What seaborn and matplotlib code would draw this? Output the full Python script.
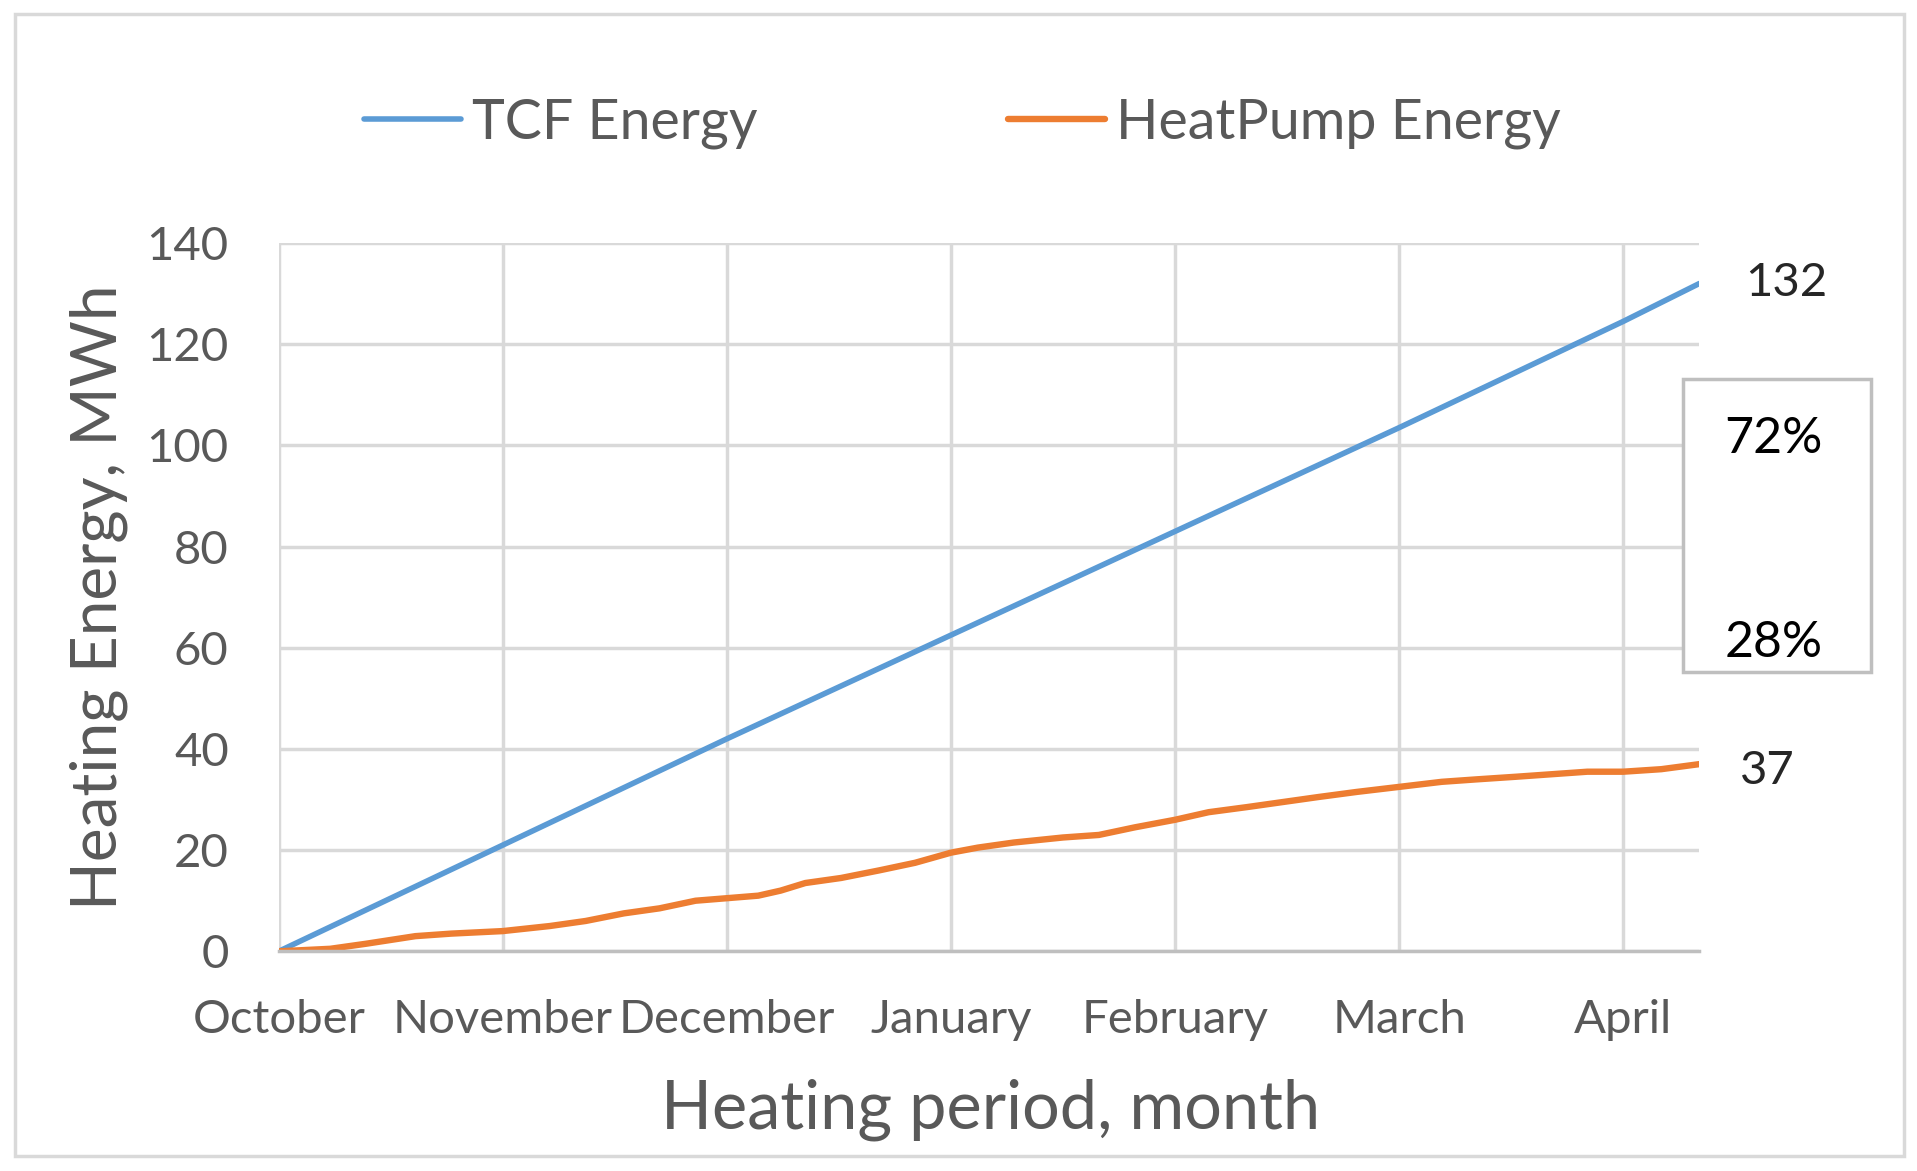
import matplotlib
matplotlib.use("Agg")
import matplotlib.pyplot as plt
import seaborn as sns
import pandas as pd
from matplotlib.patches import Rectangle

# ------------ Data ------------#
months = ["October", "November", "December", "January", "February", "March", "April"]

# x positions in months since start of October
tcf_x = [0.0, 1.0, 2.0, 3.0, 4.0, 5.0, 6.0, 6.34]
tcf_y = [0.0, 21.0, 42.0, 62.5, 83.0, 103.5, 124.5, 132.0]

hp_x = [0.0, 0.23, 0.39, 0.61, 0.77, 1.0, 1.21, 1.37, 1.54, 1.70, 1.86, 2.0,
        2.14, 2.24, 2.35, 2.51, 2.68, 2.84, 3.0, 3.12, 3.28, 3.39, 3.50, 3.66,
        3.82, 4.0, 4.15, 4.32, 4.48, 4.64, 4.81, 5.0, 5.19, 5.35, 5.52, 5.68,
        5.84, 6.0, 6.17, 6.34]
hp_y = [0.0, 0.5, 1.5, 3.0, 3.5, 4.0, 5.0, 6.0, 7.5, 8.5, 10.0, 10.5,
        11.0, 12.0, 13.5, 14.5, 16.0, 17.5, 19.5, 20.5, 21.5, 22.0, 22.5, 23.0,
        24.5, 26.0, 27.5, 28.5, 29.5, 30.5, 31.5, 32.5, 33.5, 34.0, 34.5, 35.0,
        35.5, 35.5, 36.0, 37.0]

end_labels = ["132", "37"]
share_labels = ["72%", "28%"]

df = pd.concat([
    pd.DataFrame({"month": tcf_x, "energy": tcf_y, "series": "TCF Energy"}),
    pd.DataFrame({"month": hp_x, "energy": hp_y, "series": "HeatPump Energy"}),
])

# ------------ Style ------------#
sns.set_style("white")
plt.rcParams["font.family"] = ["Lato", "DejaVu Sans"]
grey = "#595959"

fig = plt.figure(figsize=(19.17, 11.71), dpi=100)
ax = fig.add_axes([0.1454, 0.1876, 0.7411, 0.6049])

sns.lineplot(data=df, x="month", y="energy", hue="series",
             palette={"TCF Energy": "#5B9BD5", "HeatPump Energy": "#ED7D31"},
             size="series", sizes={"TCF Energy": 4.0, "HeatPump Energy": 4.6},
             ax=ax, legend=False, sort=False)

ax.set_xlim(0, 6.34)
ax.set_ylim(0, 140)
ax.set_xticks(range(len(months)))
ax.set_xticklabels(months)
ax.set_yticks(range(0, 141, 20))
ax.grid(True, color="#D9D9D9", linewidth=2.5)
ax.set_axisbelow(True)
for side in ["top", "right", "left"]:
    ax.spines[side].set_visible(False)
ax.spines["bottom"].set_color("#BFBFBF")
ax.spines["bottom"].set_linewidth(2.5)
ax.tick_params(axis="both", length=0, labelsize=34, labelcolor=grey)
ax.tick_params(axis="x", pad=34)
ax.tick_params(axis="y", pad=36)

ax.set_xlabel("Heating period, month", fontsize=48, color=grey, va="center")
ax.xaxis.set_label_coords(0.501, -0.224)
ax.set_ylabel("Heating Energy, MWh", fontsize=46, color=grey, va="center")
ax.yaxis.set_label_coords(-0.127, 0.5)

# legend above the plot
handles = [plt.Line2D([], [], color="#5B9BD5", linewidth=4),
           plt.Line2D([], [], color="#ED7D31", linewidth=4.6)]
fig.legend(handles, ["TCF Energy", "HeatPump Energy"], loc="center",
           bbox_to_anchor=(0.502, 0.895), ncol=2, frameon=False,
           fontsize=40, handlelength=1.75, handletextpad=0.2,
           columnspacing=4.5, labelcolor=grey)

# end-value labels
fig.text(0.932, 0.758, end_labels[0], fontsize=34, color="#262626",
         ha="center", va="center")
fig.text(0.922, 0.342, end_labels[1], fontsize=34, color="#262626",
         ha="center", va="center")

# share box
fig.patches.append(Rectangle((0.878, 0.4265), 0.098, 0.2495, transform=fig.transFigure,
                             facecolor="white", edgecolor="#BFBFBF", linewidth=2.5))
fig.text(0.925, 0.625, share_labels[0], fontsize=36, color="black",
         ha="center", va="center")
fig.text(0.925, 0.451, share_labels[1], fontsize=36, color="black",
         ha="center", va="center")

# outer chart frame
fig.patches.append(Rectangle((0.008, 0.013), 0.985, 0.975, transform=fig.transFigure,
                             facecolor="none", edgecolor="#D9D9D9", linewidth=2.5))

plt.savefig("out.png", dpi=100)
